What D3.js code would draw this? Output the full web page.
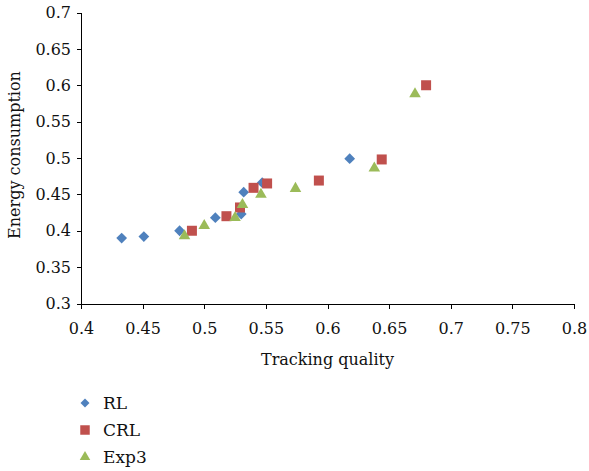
<!DOCTYPE html>
<html>
<head>
<meta charset="utf-8">
<script src="https://cdn.jsdelivr.net/npm/d3@7"></script>
<style>
  body { margin: 0; background: #fff; }
  svg text { font-family: "DejaVu Serif", "Liberation Serif", serif; fill: #111; }
  .axis path, .axis line { stroke: #000; stroke-width: 1; shape-rendering: crispEdges; }
</style>
</head>
<body>
<div id="chart"></div>
<script>
// series values: [tracking quality, energy consumption]
let rlData = [[0.433, 0.390], [0.451, 0.392], [0.480, 0.400], [0.509, 0.418],
              [0.530, 0.423], [0.532, 0.453], [0.547, 0.466], [0.618, 0.499]];
let crlData = [[0.490, 0.400], [0.518, 0.420], [0.529, 0.432], [0.540, 0.459],
               [0.551, 0.465], [0.593, 0.469], [0.644, 0.498], [0.680, 0.600]];
let exp3Data = [[0.484, 0.393], [0.500, 0.407], [0.525, 0.418], [0.531, 0.436],
                [0.546, 0.450], [0.574, 0.458], [0.638, 0.486], [0.671, 0.588]];

let seriesNames = ["RL", "CRL", "Exp3"];
let xTicks = [0.4, 0.45, 0.5, 0.55, 0.6, 0.65, 0.7, 0.75, 0.8];
let yTicks = [0.3, 0.35, 0.4, 0.45, 0.5, 0.55, 0.6, 0.65, 0.7];

let width = 589, height = 471;
let svg = d3.select("#chart").append("svg")
    .attr("width", width)
    .attr("height", height);

let xScale = d3.scaleLinear().domain([0.4, 0.8]).range([81, 574]);
let yScale = d3.scaleLinear().domain([0.3, 0.7]).range([303.5, 12.5]);

let colors = { RL: "#4f81bd", CRL: "#c0504d", Exp3: "#9bbb59" };
let shapes = { RL: "diamond", CRL: "square", Exp3: "triangle" };

// marker path for each series, size is area in px^2
function markerPath(shape, size) {
    if (shape === "triangle") return d3.symbol().type(d3.symbolTriangle).size(size)();
    return d3.symbol().type(d3.symbolSquare).size(size)();
}
function markerTransform(shape, x, y) {
    return "translate(" + x + "," + y + ")" + (shape === "diamond" ? " rotate(45)" : "");
}

// axes
let xAxis = d3.axisBottom(xScale).tickValues(xTicks).tickSize(5).tickSizeOuter(0)
    .tickPadding(14).tickFormat(d => d3.format("")(+d.toFixed(2)));
let yAxis = d3.axisLeft(yScale).tickValues(yTicks).tickSize(4).tickSizeOuter(0)
    .tickPadding(6).tickFormat(d => d3.format("")(+d.toFixed(2)));

svg.append("g").attr("class", "axis")
    .attr("transform", "translate(0," + yScale(0.3) + ")")
    .call(xAxis)
    .selectAll("text").style("font-size", "16px").attr("fill", "#111");

svg.append("g").attr("class", "axis")
    .attr("transform", "translate(" + xScale(0.4) + ",0)")
    .call(yAxis)
    .selectAll("text").style("font-size", "16px").attr("fill", "#111");

// axis titles
svg.append("text")
    .attr("x", (xScale(0.4) + xScale(0.8)) / 2)
    .attr("y", 365)
    .attr("text-anchor", "middle")
    .style("font-size", "16px")
    .text("Tracking quality");

svg.append("text")
    .attr("transform", "translate(20," + (yScale(0.5) - 3) + ") rotate(-90)")
    .attr("text-anchor", "middle")
    .style("font-size", "16px")
    .text("Energy consumption");

// points
let allSeries = [
    { name: "RL", values: rlData, size: 58 },
    { name: "CRL", values: crlData, size: 100 },
    { name: "Exp3", values: exp3Data, size: 58 }
];

allSeries.forEach(s => {
    svg.append("g").selectAll("path")
        .data(s.values)
        .enter().append("path")
        .attr("d", markerPath(shapes[s.name], s.size))
        .attr("transform", d => markerTransform(shapes[s.name], xScale(d[0]), yScale(d[1])))
        .attr("fill", colors[s.name]);
});

// legend
let legendSizes = { RL: 40, CRL: 90, Exp3: 48 };
let legend = svg.append("g").selectAll("g")
    .data(seriesNames)
    .enter().append("g")
    .attr("transform", (d, i) => "translate(85," + (403 + i * 27) + ")");

legend.append("path")
    .attr("d", d => markerPath(shapes[d], legendSizes[d]))
    .attr("transform", d => markerTransform(shapes[d], 0, 0))
    .attr("fill", d => colors[d]);

legend.append("text")
    .attr("x", 18)
    .attr("dy", "0.35em")
    .style("font-size", "17px")
    .text(d => d);
</script>
</body>
</html>
